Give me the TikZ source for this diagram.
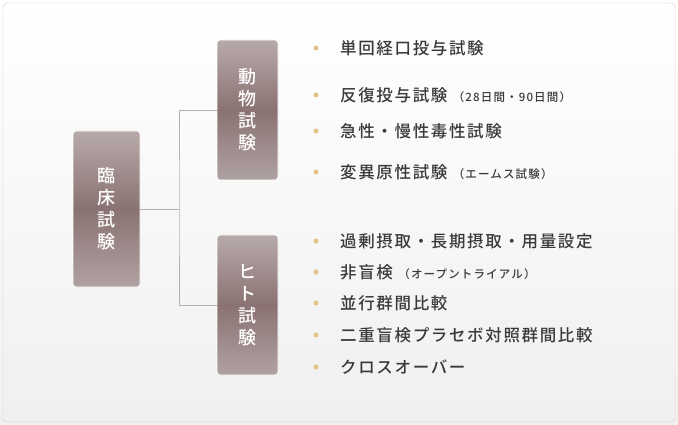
\documentclass[tikz,border=0pt]{standalone}
\usepackage{fontspec}
\newfontfamily\cjk{Noto Sans CJK JP Medium}
\newfontfamily\cjkls[LetterSpace=10]{Noto Sans CJK JP Medium}
\definecolor{boxtop}{HTML}{B8AAAA}
\definecolor{boxmid}{HTML}{8A7272}
\definecolor{boxbot}{HTML}{B0A2A2}
\definecolor{txt}{HTML}{3A3A3A}
\definecolor{bul}{HTML}{E0C48A}
\tikzset{
 vbox/.style={rounded corners=3pt, top color=boxtop, bottom color=boxbot, middle color=boxmid, draw=white, line width=0.8pt, minimum width=61pt, text=white, font=\cjk\fontsize{18}{22}\selectfont, align=center, inner sep=0pt},
 item/.style={anchor=west, text=txt, font=\cjkls\fontsize{16.5}{19}\selectfont, inner sep=0pt},
 dot/.style={circle, fill=bul, minimum size=5pt, inner sep=0pt},
 link/.style={draw=gray!60, line width=0.7pt}
}
\newcommand{\sm}[1]{{\fontsize{11.5}{13}\selectfont #1}}
\begin{document}
\begin{tikzpicture}[x=1pt,y=-1pt]
\useasboundingbox (0,0) rectangle (678,425);
\fill[top color=white, bottom color=gray!12] (0,0) rectangle (678,425);
\draw[gray!40, rounded corners=4pt] (3,3) rectangle (675,422);
\node[vbox, minimum width=67pt, minimum height=156pt] (a) at (106.5,209) {臨\\床\\試\\験};
\node[vbox, minimum height=140pt] (b) at (247.5,110) {動\\物\\試\\験};
\node[vbox, minimum height=140pt] (c) at (247.5,305) {ヒ\\ト\\試\\験};
\coordinate (j) at (179,209);
\draw[link] (a.east) -- (j);
\draw[link] (b.west) -| (j) |- (c.west);
\foreach \y/\t [count=\i] in {48/単回経口投与試験, 95/{反復投与試験\ \sm{（28日間・90日間）}}, 131/急性・慢性毒性試験, 172/{変異原性試験\ \sm{（エームス試験）}}, 241/過剰摂取・長期摂取・用量設定, 272/{非盲検\ \sm{（オープントライアル）}}, 303/並行群間比較, 335/二重盲検プラセボ対照群間比較, 367/クロスオーバー}{
 \node[dot] (d\i) at (316,\y) {};
 \node[item] (t\i) at (340,\y) {\t};
}
\end{tikzpicture}
\end{document}
